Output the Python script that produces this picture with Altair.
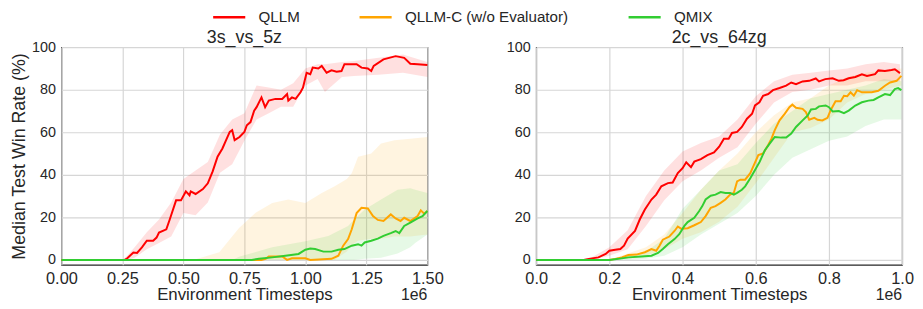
import altair as alt
import pandas as pd

SERIES = ["QLLM", "QLLM-C (w/o Evaluator)", "QMIX"]
COLORS = ["#ff0000", "#ffa500", "#32cd32"]

# ---------------- 3s_vs_5z (x in 1e6 steps) ----------------
A_QLLM_X = [0, 0.26, 0.27, 0.295, 0.31, 0.33, 0.35, 0.376, 0.39, 0.40, 0.43, 0.444, 0.47, 0.49, 0.51,
            0.525, 0.53, 0.55, 0.58, 0.60, 0.62, 0.64, 0.66, 0.675, 0.69, 0.70, 0.71, 0.73, 0.75, 0.76,
            0.775, 0.79, 0.80, 0.82, 0.835, 0.85, 0.877, 0.905, 0.925, 0.93, 0.945, 0.96, 0.98, 0.99, 1.005,
            1.02, 1.03, 1.053, 1.067, 1.087, 1.107, 1.128, 1.148, 1.16, 1.21, 1.23, 1.256, 1.27, 1.28, 1.32,
            1.37, 1.405, 1.43, 1.46, 1.50]
A_QLLM_Y = [0, 0, 0.8, 3.5, 3.3, 5.9, 9, 9, 10.5, 12.9, 14.4, 19, 28, 28, 32.2,
            30.4, 32.2, 31, 33.3, 36, 41.6, 48.5, 52.4, 56.3, 60.2, 61, 56.3, 57.8, 60.2, 63.3,
            64.8, 70.2, 71.8, 76.4, 71.8, 74.9, 75.7, 75.7, 78, 74.9, 76.4, 75.7, 78.8, 81, 88,
            87.3, 90.4, 90, 91.2, 88, 89.1, 88.5, 88.8, 92, 92, 90.4, 90, 88.8, 91.2, 94.3,
            95.8, 95, 92.2, 92, 91.6]
A_QLLM_BX = [0, 0.25, 0.27, 0.30, 0.35, 0.40, 0.45, 0.50, 0.55, 0.60, 0.65, 0.70, 0.75, 0.80, 0.85,
             0.90, 0.95, 1.00, 1.05, 1.08, 1.15, 1.20, 1.30, 1.40, 1.50]
A_QLLM_LO = [0, 0, 0, 1, 5, 8, 11, 22, 21, 27, 41, 45, 56, 66, 69, 72, 72, 82, 85, 79, 86, 86.5, 87, 88, 86]
A_QLLM_HI = [0, 0, 2, 6, 13, 19, 27, 38, 42, 46, 59, 66, 69, 82, 81, 80, 83, 90, 92, 92, 93, 93.5, 95, 96.6, 93]

A_QLLMC_X = [0, 0.82, 0.837, 0.85, 0.905, 0.925, 0.945, 1.0, 1.02, 1.107, 1.135, 1.155, 1.175, 1.19, 1.21,
             1.23, 1.256, 1.277, 1.297, 1.32, 1.35, 1.37, 1.39, 1.405, 1.43, 1.46, 1.473, 1.487, 1.50]
A_QLLMC_Y = [0, 0, 0.5, 1.6, 1.6, 0, 0.8, 0.8, 0, 0.5, 2, 6.7, 9.8, 14.4, 22,
             24.5, 24.2, 20.6, 18.8, 18.3, 21.4, 19.5, 18.3, 19.8, 18.3, 20.6, 23.3, 21.7, 23]
A_QLLMC_BX = [0, 0.54, 0.647, 0.728, 0.796, 0.864, 0.93, 1.0, 1.067, 1.12, 1.17, 1.19, 1.216, 1.27,
              1.31, 1.365, 1.43, 1.50]
A_QLLMC_LO = [0, 0, 0, 0, 0, 0, 0, 0, 0, 0, 4, 7, 9, 10, 10, 11, 11, 12]
A_QLLMC_HI = [0, 0, 3.6, 15, 22.2, 26.8, 28.4, 26.8, 31.5, 34.6, 38, 40.8, 48.5, 50, 54.7, 56.3, 57, 57.8]

A_QMIX_X = [0, 0.78, 0.81, 0.864, 0.918, 0.972, 1.0, 1.02, 1.04, 1.074, 1.107, 1.135, 1.16, 1.19, 1.216,
            1.23, 1.243, 1.27, 1.297, 1.32, 1.35, 1.37, 1.385, 1.405, 1.43, 1.46, 1.48, 1.50]
A_QMIX_Y = [0, 0, 0.5, 1.2, 2, 2.8, 4.8, 5.4, 5.1, 3.9, 3.9, 4.8, 5.1, 6.7, 7.4,
            6.7, 8.2, 9, 10, 11.3, 12.6, 13.6, 12.6, 16, 17.5, 19.5, 20.6, 23]
A_QMIX_BX = [0, 0.70, 0.728, 0.864, 1.0, 1.094, 1.175, 1.2, 1.243, 1.31, 1.378, 1.43, 1.45, 1.50]
A_QMIX_LO = [0, 0, 0, 0, 0, 0, 0, 0, 0.5, 1, 3, 6, 8, 12]
A_QMIX_HI = [0, 0, 1.5, 5.9, 8.8, 11.3, 15.9, 19, 23.7, 28.4, 33, 33.7, 33, 31.5]

# ---------------- 2c_vs_64zg ----------------
B_QLLM_X = [0, 0.13, 0.144, 0.17, 0.19, 0.20, 0.216, 0.23, 0.24, 0.25, 0.27, 0.283, 0.297, 0.315, 0.328,
            0.342, 0.36, 0.373, 0.387, 0.40, 0.41, 0.423, 0.432, 0.45, 0.468, 0.486, 0.50, 0.513, 0.526, 0.535,
            0.549, 0.562, 0.576, 0.59, 0.598, 0.61, 0.62, 0.634, 0.647, 0.665, 0.683, 0.697, 0.71, 0.728, 0.746,
            0.764, 0.773, 0.79, 0.81, 0.827, 0.84, 0.854, 0.872, 0.89, 0.904, 0.926, 0.935, 0.953, 0.971, 0.98,
            0.994]
B_QLLM_Y = [0, 0, 0.5, 1.2, 2.8, 4.3, 4.8, 5.1, 6.7, 10, 13.6, 19, 23.7, 28.4, 30.7,
            34.6, 36.1, 36.4, 40.8, 43.1, 45.9, 43.6, 46.2, 47.4, 49.3, 50.5, 53.2, 57, 57, 59.7,
            60.2, 62.5, 66.4, 68.7, 72.6, 74.1, 77.2, 78, 79.8, 80.8, 81.9, 83.4, 82.6, 83.9, 84.2,
            85.3, 83.9, 85, 85.4, 84.2, 84.5, 85.4, 86, 87.3, 86.5, 87.3, 89.1, 88.8, 89.3, 89.6,
            87.8]
B_QLLM_BX = [0, 0.12, 0.15, 0.2, 0.25, 0.3, 0.35, 0.4, 0.45, 0.5, 0.55, 0.6, 0.65, 0.7, 0.75, 0.8, 0.85,
             0.9, 0.95, 0.994]
B_QLLM_LO = [0, 0, 0, 2, 5, 16, 28, 37, 42, 48, 53, 64, 74, 79, 80, 82, 82, 84, 84, 84]
B_QLLM_HI = [0, 0, 1, 6, 14, 30, 42, 51, 55, 58, 66, 77, 84, 87, 88, 89, 90, 92, 93, 92]

B_QLLMC_X = [0, 0.2, 0.216, 0.234, 0.252, 0.274, 0.297, 0.315, 0.328, 0.337, 0.346, 0.364, 0.378, 0.387,
             0.396, 0.414, 0.432, 0.45, 0.463, 0.477, 0.49, 0.504, 0.517, 0.53, 0.54, 0.549, 0.558, 0.571,
             0.585, 0.593, 0.607, 0.62, 0.634, 0.643, 0.652, 0.665, 0.679, 0.692, 0.70, 0.71, 0.728, 0.737,
             0.746, 0.76, 0.769, 0.782, 0.796, 0.805, 0.818, 0.832, 0.841, 0.85, 0.859, 0.868, 0.877, 0.89,
             0.917, 0.935, 0.953, 0.967, 0.985, 0.998]
B_QLLMC_Y = [0, 0, 0.5, 1.2, 2.3, 2.5, 3.6, 5.1, 4.3, 6.7, 9.5, 11, 13.6, 15.7,
             14.7, 14.9, 16.3, 17.8, 20.6, 24.5, 25.3, 26.8, 28.4, 30.7, 31.5, 36.9, 37.7, 37.7,
             40.8, 43.9, 49.3, 50, 54, 57, 61, 65.6, 68.7, 71.8, 73, 71.5, 71, 69.5,
             65.9, 66.8, 65.9, 65.6, 66.8, 70.5, 74.6, 74.6, 77.2, 77, 78.8, 77.2, 79.8, 78.8,
             78.8, 79.5, 81.9, 83.4, 84.2, 86.5]
B_QLLMC_BX = [0, 0.2, 0.25, 0.3, 0.35, 0.4, 0.45, 0.5, 0.55, 0.6, 0.65, 0.7, 0.75, 0.8, 0.85, 0.9, 0.95, 0.998]
B_QLLMC_LO = [0, 0, 0.5, 2, 5, 10, 13, 18, 25, 36, 48, 60, 62, 66, 74, 78, 80, 82]
B_QLLMC_HI = [0, 0, 3, 6, 12, 22, 33, 42, 50, 60, 68, 74, 76, 82, 86, 88, 89, 90]

B_QMIX_X = [0, 0.2, 0.225, 0.252, 0.288, 0.315, 0.333, 0.346, 0.36, 0.378, 0.391, 0.405, 0.414, 0.432,
            0.445, 0.454, 0.463, 0.477, 0.49, 0.504, 0.517, 0.53, 0.54, 0.549, 0.562, 0.571, 0.585, 0.598,
            0.611, 0.625, 0.638, 0.652, 0.67, 0.683, 0.697, 0.71, 0.728, 0.742, 0.751, 0.764, 0.773, 0.791,
            0.8, 0.81, 0.827, 0.841, 0.854, 0.872, 0.89, 0.908, 0.922, 0.935, 0.953, 0.967, 0.98, 0.989, 0.998]
B_QMIX_Y = [0, 0, 0.5, 1.2, 1.6, 2, 3.3, 5.1, 7.4, 9.8, 12.1, 16, 17.8, 19.8,
            22.9, 25.3, 28.4, 30.2, 30.7, 31.9, 31.5, 31.5, 30.7, 31.5, 33, 34.6, 38.4, 42.3,
            46.2, 51.6, 54.7, 57.8, 57.5, 57.5, 59.4, 62.5, 65.6, 67.9, 70.7, 71, 72.2, 72.6,
            71.8, 69.8, 70, 69, 70.2, 72.6, 74.1, 74.9, 75.2, 76.4, 78, 77.5, 80.3, 80.8, 79.8]
B_QMIX_BX = [0, 0.2, 0.25, 0.3, 0.35, 0.4, 0.45, 0.5, 0.55, 0.6, 0.65, 0.7, 0.75, 0.8, 0.85, 0.9, 0.95, 0.998]
B_QMIX_LO = [0, 0, 0, 0.5, 2, 6, 12, 17, 22, 30, 40, 48, 52, 56, 58, 63, 66, 66]
B_QMIX_HI = [0, 0, 2, 4, 10, 24, 33, 42, 45, 55, 64, 70, 76, 78, 80, 82, 85, 84]

X_TICKS_A = [0, 0.25, 0.5, 0.75, 1.0, 1.25, 1.5]
X_TICKS_B = [0, 0.2, 0.4, 0.6, 0.8, 1.0]
Y_TICKS = [0, 20, 40, 60, 80, 100]


def line_table(parts):
    rows = []
    for name, xs, ys in parts:
        rows += [{"series": name, "x": a, "y": b} for a, b in zip(xs, ys)]
    return pd.DataFrame(rows)


def band_table(name, xs, lo, hi):
    return pd.DataFrame({"series": name, "x": xs, "lo": lo, "hi": hi})


W, H = 370, 220
FONT = "Liberation Sans"
TXT = "#262626"


def panel(title, lines, bands, xmax, xticks, fmt, ytitle, legend):
    xs = alt.Scale(domain=[0, xmax], nice=False, zero=False)
    ys = alt.Scale(domain=[-2.3, 100], nice=False)
    xaxis = alt.Axis(values=xticks, format=fmt, title="Environment Timesteps", labelFlush=False)
    yaxis = alt.Axis(values=Y_TICKS, title=ytitle if ytitle else "", labelFlush=False)
    layers = []
    for (name, xb, lo, hi), col in zip(bands, COLORS):
        layers.append(
            alt.Chart(band_table(name, xb, lo, hi)).mark_area(
                color=col, opacity=0.12, interpolate="linear"
            ).encode(
                x=alt.X("x:Q", scale=xs, axis=xaxis),
                y=alt.Y("lo:Q", scale=ys, axis=yaxis),
                y2="hi:Q",
            )
        )
    layers.append(
        alt.Chart(lines).mark_line(strokeWidth=2, interpolate="linear").encode(
            x=alt.X("x:Q", scale=xs, axis=xaxis),
            y=alt.Y("y:Q", scale=ys, axis=yaxis),
            stroke=alt.Stroke("series:N", scale=alt.Scale(domain=SERIES, range=COLORS), legend=legend),
        )
    )
    layers.append(
        alt.Chart(pd.DataFrame({"t": ["1e6"]})).mark_text(
            align="right", baseline="middle", fontSize=16, font=FONT, color=TXT
        ).encode(x=alt.value(W), y=alt.value(H + 31), text="t:N")
    )
    return alt.layer(*layers).properties(
        width=W, height=H,
        title=alt.TitleParams(title, fontSize=18, font=FONT, fontWeight="normal", color=TXT,
                              offset=-8, frame="group"),
    )


LEGEND = alt.Legend(
    title=None, orient="none", legendX=162, legendY=-38, direction="horizontal",
    symbolType="M-3,0H3", symbolSize=117, symbolStrokeWidth=2.5, symbolFillColor="transparent",
    labelOffset=22, columnPadding=55, labelLimit=400, padding=0,
)

left = panel(
    "3s_vs_5z",
    line_table([(SERIES[0], A_QLLM_X, A_QLLM_Y), (SERIES[1], A_QLLMC_X, A_QLLMC_Y), (SERIES[2], A_QMIX_X, A_QMIX_Y)]),
    [(SERIES[0], A_QLLM_BX, A_QLLM_LO, A_QLLM_HI), (SERIES[1], A_QLLMC_BX, A_QLLMC_LO, A_QLLMC_HI),
     (SERIES[2], A_QMIX_BX, A_QMIX_LO, A_QMIX_HI)],
    1.5, X_TICKS_A, ".2f", "Median Test Win Rate (%)", LEGEND,
)
right = panel(
    "2c_vs_64zg",
    line_table([(SERIES[0], B_QLLM_X, B_QLLM_Y), (SERIES[1], B_QLLMC_X, B_QLLMC_Y), (SERIES[2], B_QMIX_X, B_QMIX_Y)]),
    [(SERIES[0], B_QLLM_BX, B_QLLM_LO, B_QLLM_HI), (SERIES[1], B_QLLMC_BX, B_QLLMC_LO, B_QLLMC_HI),
     (SERIES[2], B_QMIX_BX, B_QMIX_LO, B_QMIX_HI)],
    1.0, X_TICKS_B, ".1f", None, LEGEND,
)

chart = alt.hconcat(left, right, spacing=110, bounds="flush").properties(
    padding={"left": 2, "top": 0, "right": 0, "bottom": 0}
).configure_view(
    stroke="#262626", strokeWidth=1.2
).configure_axis(
    grid=True, gridColor="#d6d6d6", gridWidth=1.2, domain=False, ticks=False,
    labelFont=FONT, labelColor=TXT,
    titleFont=FONT, titleColor=TXT, titleFontWeight="normal",
).configure_axisY(
    labelFontSize=14.5, labelPadding=6, titlePadding=3, titleFontSize=18,
).configure_axisX(
    labelFontSize=16.5, labelPadding=6, titlePadding=0, titleFontSize=17,
).configure_legend(
    labelFont=FONT, labelFontSize=15.3, labelColor=TXT,
)

chart.save("out.html", embed_options={"renderer": "svg", "actions": False})
